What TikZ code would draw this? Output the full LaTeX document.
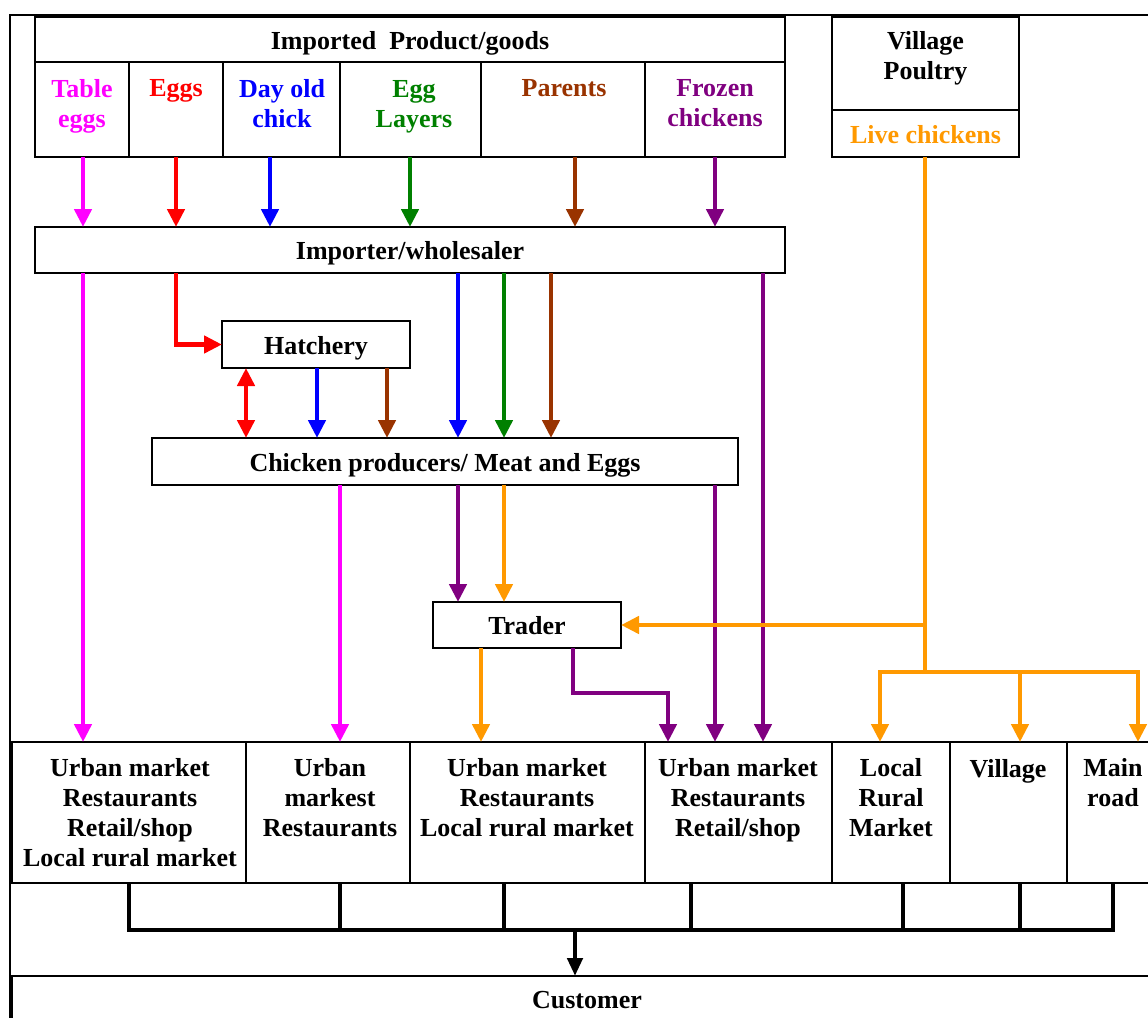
\documentclass[tikz,border=0pt]{standalone}
\usepackage{fontspec}
\setmainfont{Liberation Serif}
\usetikzlibrary{arrows.meta,calc}
\definecolor{cmag}{RGB}{255,0,255}
\definecolor{cred}{RGB}{255,0,0}
\definecolor{cblue}{RGB}{0,0,255}
\definecolor{cgreen}{RGB}{0,128,0}
\definecolor{cbrown}{RGB}{153,51,0}
\definecolor{cpurple}{RGB}{128,0,128}
\definecolor{corange}{RGB}{255,153,0}
\begin{document}
\begin{tikzpicture}[x=1pt,y=-1pt,
  bx/.style 2 args={draw=black, line width=1.4pt, inner sep=0pt, outer sep=0pt,
    minimum width=#1pt, minimum height=#2pt, text height=22pt, text depth=3pt,
    font=\fontsize{26}{30}\selectfont\bfseries, align=center},
  txt/.style={font=\fontsize{26}{30}\selectfont\bfseries, align=center, inner sep=0pt,
    execute at begin node=\strut, execute at end node=\strut},
  arr/.style={line width=4.5pt, -{Triangle[length=18pt,width=17pt]}},
  dbl/.style={line width=4.5pt, {Triangle[length=18pt,width=17pt]}-{Triangle[length=18pt,width=17pt]}},
  pline/.style={line width=4.5pt},
  blk/.style={line width=4.5pt, black}]
\useasboundingbox (0,0) rectangle (1148,1017);
% outer frame
\draw[line width=2pt] (10,15) rectangle (1175,1045);

% imported products
\node[bx={750}{45}] (ihead) at (410,39.5) {Imported\ \ Product/goods};
\node[bx={94}{95}]  (c1) at (82,109.5) {};
\node[bx={94}{95}]  (c2) at (176,109.5) {};
\node[bx={117}{95}] (c3) at (281.5,109.5) {};
\node[bx={141}{95}] (c4) at (410.5,109.5) {};
\node[bx={164}{95}] (c5) at (563,109.5) {};
\node[bx={140}{95}] (c6) at (715,109.5) {};
\node[txt, text=cmag]    (t1) at (82,107.5)  {Table\\eggs};
\node[txt, text=cred]    (t2) at (176,90.5)  {Eggs};
\node[txt, text=cblue]   (t3) at (282,107.5) {Day old\\chick};
\node[txt, text=cgreen]  (t4) at (414,108) {Egg\\Layers};
\node[txt, text=cbrown]  (t5) at (564,90.5)  {Parents};
\node[txt, text=cpurple] (t6) at (715,107.5) {Frozen\\chickens};

% village poultry
\node[bx={187}{93}] (vp) at (925.5,63.5) {};
\node[txt] (tvp) at (925.5,60) {Village\\Poultry};
\node[bx={187}{47}, text=corange] (live) at (925.5,133.5) {Live chickens};

% middle boxes
\node[bx={750}{46}] (imp) at (410,250) {Importer/wholesaler};
\node[bx={188}{47}] (hat) at (316,344.5) {Hatchery};
\node[bx={586}{47}] (cp)  at (445,461.5) {Chicken producers/ Meat and Eggs};
\node[bx={188}{46}] (tr)  at (527,625) {Trader};

% bottom outlets
\node[bx={234}{141}] (b1) at (129,812.5) {};
\node[bx={164}{141}] (b2) at (328,812.5) {};
\node[bx={235}{141}] (b3) at (527.5,812.5) {};
\node[bx={187}{141}] (b4) at (738.5,812.5) {};
\node[bx={118}{141}] (b5) at (891,812.5) {};
\node[bx={117}{141}] (b6) at (1008.5,812.5) {};
\node[bx={93}{141}]  (b7) at (1113.5,812.5) {};
\node[txt] (tb1) at (130,816.5) {Urban market\\Restaurants\\Retail/shop\\Local rural market};
\node[txt] (tb2) at (330,801.5) {Urban\\markest\\Restaurants};
\node[txt] (tb3) at (527,801.5) {Urban market\\Restaurants\\Local rural market};
\node[txt] (tb4) at (738,801.5) {Urban market\\Restaurants\\Retail/shop};
\node[txt] (tb5) at (891,801.5) {Local\\Rural\\Market};
\node[txt] (tb6) at (1008,771) {Village};
\node[txt] (tb7) at (1113,786.5) {Main\\road};

% customer
\node[bx={1150}{60}] (cust) at (587,1006) {};
\node[txt] (tcu) at (587,1002.5) {Customer};

% x positions
\coordinate (xa) at (83,0);
\coordinate (xb) at (176,0);
\coordinate (xc) at (270,0);
\coordinate (xd) at (410,0);
\coordinate (xe) at (575,0);
\coordinate (xf) at (715,0);
\coordinate (xg) at (458,0);
\coordinate (xh) at (504,0);
\coordinate (xi) at (551,0);
\coordinate (xj) at (763,0);
\coordinate (xk) at (246,0);
\coordinate (xl) at (317,0);
\coordinate (xm) at (387,0);
\coordinate (xn) at (340,0);
\coordinate (xo) at (481,0);
\coordinate (xp) at (573,0);
\coordinate (kp) at (668,693);
\coordinate (xr) at (925,0);
\coordinate (ko) at (925,672);
\coordinate (kl) at (880,672);
\coordinate (xt) at (1020,0);
\coordinate (kr) at (1138,672);
\coordinate (ya) at (129,0);
\coordinate (yb) at (691,0);
\coordinate (yc) at (903,0);
\coordinate (yd) at (1113,0);
\coordinate (bh) at (575,930);

% imported -> importer
\draw[arr,cmag]    (c1.south -| xa) -- (imp.north -| xa);
\draw[arr,cred]    (c2.south -| xb) -- (imp.north -| xb);
\draw[arr,cblue]   (c3.south -| xc) -- (imp.north -| xc);
\draw[arr,cgreen]  (c4.south -| xd) -- (imp.north -| xd);
\draw[arr,cbrown]  (c5.south -| xe) -- (imp.north -| xe);
\draw[arr,cpurple] (c6.south -| xf) -- (imp.north -| xf);

% importer -> ...
\draw[arr,cmag]    (imp.south -| xa) -- (b1.north -| xa);
\draw[arr,cred]    (imp.south -| xb) |- (hat.west);
\draw[arr,cblue]   (imp.south -| xg) -- (cp.north -| xg);
\draw[arr,cgreen]  (imp.south -| xh) -- (cp.north -| xh);
\draw[arr,cbrown]  (imp.south -| xi) -- (cp.north -| xi);
\draw[arr,cpurple] (imp.south -| xj) -- (b4.north -| xj);

% hatchery -> producers
\draw[dbl,cred]    (hat.south -| xk) -- (cp.north -| xk);
\draw[arr,cblue]   (hat.south -| xl) -- (cp.north -| xl);
\draw[arr,cbrown]  (hat.south -| xm) -- (cp.north -| xm);

% producers -> ...
\draw[arr,cmag]    (cp.south -| xn) -- (b2.north -| xn);
\draw[arr,cpurple] (cp.south -| xg) -- (tr.north -| xg);
\draw[arr,corange] (cp.south -| xh) -- (tr.north -| xh);
\draw[arr,cpurple] (cp.south -| xf) -- (b4.north -| xf);

% trader -> ...
\draw[arr,corange] (tr.south -| xo) -- (b3.north -| xo);
\draw[arr,cpurple] (tr.south -| xp) |- (kp) -- (b4.north -| kp);

% live chickens
\draw[pline,corange] (live.south -| xr) -- (ko);
\draw[arr,corange] (xr |- tr.east) -- (tr.east);
\draw[arr,corange] (ko) -| (b5.north -| kl);
\draw[arr,corange] (ko -| xt) -- (b6.north -| xt);
\draw[arr,corange] (ko) -| (b7.north -| kr);

% to customer
\draw[blk] (b1.south -| ya) |- (bh) -| (b7.south -| yd);
\draw[blk] (b2.south -| xn) -- (bh -| xn);
\draw[blk] (b3.south -| xh) -- (bh -| xh);
\draw[blk] (b4.south -| yb) -- (bh -| yb);
\draw[blk] (b5.south -| yc) -- (bh -| yc);
\draw[blk] (b6.south -| xt) -- (bh -| xt);
\draw[blk,-{Triangle[length=18pt,width=15pt]}] (bh) -- (cust.north -| bh);
\end{tikzpicture}
\end{document}
